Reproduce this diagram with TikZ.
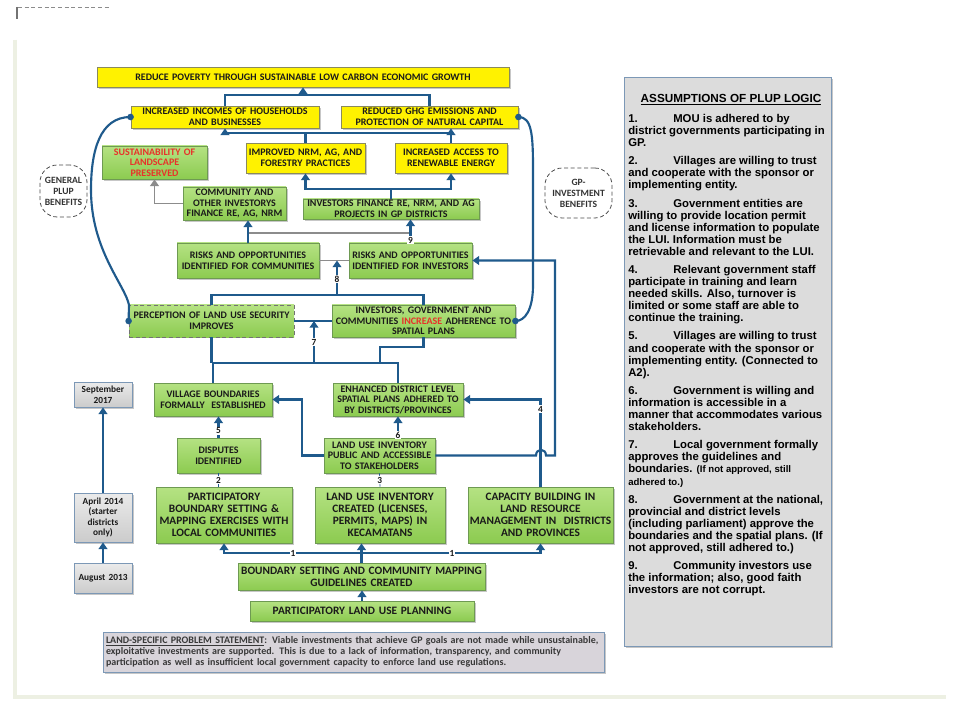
\documentclass[tikz,border=0pt]{standalone}
\usepackage{fontspec}
\setmainfont{Carlito}
\newfontfamily\arialf{Liberation Sans}
\usetikzlibrary{arrows.meta,shadows}
\newdimen\pxu \pxu=0.75pt
\definecolor{cblue}{HTML}{1F5A8C}
\definecolor{gtop}{HTML}{B5E283}
\definecolor{gbot}{HTML}{8CCB50}
\definecolor{gbord}{HTML}{6E9A52}
\definecolor{ybord}{HTML}{8A8A5C}
\definecolor{txt}{HTML}{1A1A1A}
\definecolor{rtxt}{HTML}{E8322A}
\definecolor{pfill}{HTML}{DCDCDC}
\definecolor{pbord}{HTML}{7C98B6}
\definecolor{probfill}{HTML}{D8D4DA}
\definecolor{datefill}{HTML}{E2E2E2}
\definecolor{frame}{HTML}{EDF0E3}
\tikzset{
 bx/.style={align=center, inner sep=0pt, text=txt, font=\bfseries\fontsize{7.5}{7.9}\selectfont},
 sz/.style 2 args={minimum width=#1\pxu, minimum height=#2\pxu, text width=#1\pxu},
 shad/.style={drop shadow={shadow xshift=1.3pt, shadow yshift=-1.3pt, fill=black!40, opacity=0.55}},
 gbox/.style={bx, shad, top color=gtop, bottom color=gbot, draw=gbord, line width=0.6pt},
 ybox/.style={bx, shad, fill=yellow, draw=ybord, line width=0.6pt},
 bigtext/.style={font=\bfseries\fontsize{8.5}{8.85}\selectfont},
 datebox/.style={bx, shad, top color=white!92!black, bottom color=datefill!90!black, draw=pbord, line width=0.6pt, font=\bfseries\fontsize{7}{7.9}\selectfont},
 bubble/.style={draw=black!70, densely dashed, line width=0.6pt, rounded corners=13pt, fill=white, align=center, inner sep=0pt, text=black!80, font=\bfseries\fontsize{7.2}{8.2}\selectfont},
 conn/.style={draw=cblue, line width=1.6pt},
 arr/.style={conn, -{Triangle[width=6.5pt,length=5pt]}},
 gline/.style={draw=black!45, line width=1.4pt},
 garr/.style={gline, -{Triangle[width=6.5pt,length=5pt]}},
 thinc/.style={draw=cblue, line width=0.5pt},
 lbl/.style={font=\bfseries\fontsize{7}{7}\selectfont, fill=white, inner sep=0.8pt, text=txt},
 dot/.style={fill=cblue}
}
\begin{document}
\begin{tikzpicture}[x=0.75pt,y=-0.75pt]
\useasboundingbox (0,0) rectangle (960,720);
\fill[white] (0,0) rectangle (960,720);
% page frame artefacts
\draw[frame, line width=2.8pt] (15,40) -- (15,697) -- (946,697);
\draw[black!45, densely dashed, line width=0.4pt] (18,7) -- (110,7);
\draw[black!55, line width=1pt] (17,7) -- (17,19);

% ---------- boxes ----------
\node[ybox, sz={412}{20}] (top) at (303,77) {REDUCE POVERTY THROUGH SUSTAINABLE LOW CARBON ECONOMIC GROWTH};
\node[ybox, sz={188}{22}] (inc) at (225,117) {INCREASED INCOMES OF HOUSEHOLDS\\AND BUSINESSES};
\node[ybox, sz={177}{22}] (ghg) at (429.5,117) {REDUCED GHG EMISSIONS AND\\PROTECTION OF NATURAL CAPITAL};
\node[gbox, sz={105}{33}, text=rtxt] (sust) at (154.5,162.5) {SUSTAINABILITY OF\\LANDSCAPE\\PRESERVED};
\node[ybox, sz={119}{30}] (nrm) at (305.5,158) {IMPROVED NRM, AG, AND\\FORESTRY PRACTICES};
\node[ybox, sz={112}{30}] (ren) at (451,158) {INCREASED ACCESS TO\\RENEWABLE ENERGY};
\node[gbox, sz={103}{33}] (comm) at (234.5,203.5) {COMMUNITY AND\\OTHER INVESTORYS\\FINANCE RE, AG, NRM};
\node[gbox, sz={176}{20}] (invf) at (391,209) {INVESTORS FINANCE RE, NRM, AND AG\\PROJECTS IN GP DISTRICTS};
\node[gbox, sz={142}{35}] (rc) at (248,260.5) {RISKS AND OPPORTUNITIES\\IDENTIFIED FOR COMMUNITIES};
\node[gbox, sz={123}{35}] (ri) at (410.5,260.5) {RISKS AND OPPORTUNITIES\\IDENTIFIED FOR INVESTORS};
\node[bx, top color=gtop, bottom color=gbot, draw=black!55, densely dashed, line width=0.6pt, sz={165}{32}] (perc) at (211.5,321) {PERCEPTION OF LAND USE SECURITY\\IMPROVES};
\node[gbox, sz={183}{32}] (adh) at (423.5,321) {INVESTORS, GOVERNMENT AND\\COMMUNITIES \textcolor{rtxt}{INCREASE} ADHERENCE TO\\SPATIAL PLANS};
\node[gbox, sz={118}{33}] (vil) at (213,399.5) {VILLAGE BOUNDARIES\\FORMALLY~~ESTABLISHED};
\node[gbox, sz={130}{33}] (enh) at (398,399.5) {ENHANCED DISTRICT LEVEL\\SPATIAL PLANS ADHERED TO\\BY DISTRICTS/PROVINCES};
\node[gbox, sz={83}{35}] (disp) at (218.5,455.5) {DISPUTES\\IDENTIFIED};
\node[gbox, sz={111}{35}] (luip) at (379.5,455.5) {LAND USE INVENTORY\\PUBLIC AND ACCESSIBLE\\TO STAKEHOLDERS};
\node[gbox, bigtext, sz={136}{56}] (pbs) at (224,515) {PARTICIPATORY\\BOUNDARY SETTING \&\\MAPPING EXERCISES WITH\\LOCAL COMMUNITIES};
\node[gbox, bigtext, sz={130}{56}] (luic) at (380,515) {LAND USE INVENTORY\\CREATED (LICENSES,\\PERMITS, MAPS) IN\\KECAMATANS};
\node[gbox, bigtext, sz={145}{56}] (cap) at (540.5,515) {CAPACITY BUILDING IN\\LAND RESOURCE\\MANAGEMENT IN~~DISTRICTS\\AND PROVINCES};
\node[gbox, bigtext, sz={247}{27}] (guide) at (361.5,576.5) {BOUNDARY SETTING AND COMMUNITY MAPPING\\GUIDELINES CREATED};
\node[gbox, bigtext, sz={224}{20}] (plup) at (362,611) {PARTICIPATORY LAND USE PLANNING};

% dates
\node[datebox, sz={58}{25}] (sep) at (103,394.5) {September\\2017};
\node[datebox, sz={58}{49}] (apr) at (103,517.5) {April 2014\\(starter\\districts\\only)};
\node[datebox, sz={58}{30}] (aug) at (103,578) {August 2013};

% bubbles
\node[bubble, minimum width=47\pxu, minimum height=52\pxu] (gen) at (63.5,191) {GENERAL\\PLUP\\BENEFITS};
\node[bubble, minimum width=67\pxu, minimum height=50\pxu] (gpi) at (578.5,193) {GP-\\INVESTMENT\\BENEFITS};

% problem statement
\node[shad, fill=probfill, draw=pbord, line width=0.7pt, align=left, inner xsep=3\pxu, inner ysep=0pt,
      text width=495\pxu, minimum height=40\pxu, text=black!78,
      font=\bfseries\fontsize{7.5}{8.3}\selectfont] (prob) at (353.5,652)
 {\underline{LAND-SPECIFIC PROBLEM STATEMENT}: Viable investments that achieve GP goals are not made while unsustainable,\\
  exploitative investments are supported. This is due to a lack of information, transparency, and community\\
  participation as well as insufficient local government capacity to enforce land use regulations.};

% assumptions panel
\node[shad, fill=pfill, draw=pbord, line width=0.7pt, minimum width=207\pxu, minimum height=569\pxu] (panel) at (727.5,361.5) {};
\node[font=\arialf\bfseries\fontsize{8.8}{10}\selectfont, inner sep=0pt] (ptitle) at (731,100) {\underline{ASSUMPTIONS OF PLUP LOGIC}};
\node[anchor=north west, inner sep=0pt, align=left, font=\arialf\bfseries\fontsize{8.5}{9.07}\selectfont] (ptext) at (628,114) {%
\makebox[45\pxu][l]{1.}MOU is adhered to by\\
district governments participating in\\
GP.\\[4.5pt]
\makebox[45\pxu][l]{2.}Villages are willing to trust\\
and cooperate with the sponsor or\\
implementing entity.\\[4.5pt]
\makebox[45\pxu][l]{3.}Government entities are\\
willing to provide location permit\\
and license information to populate\\
the LUI. Information must be\\
retrievable and relevant to the LUI.\\[4.5pt]
\makebox[45\pxu][l]{4.}Relevant government staff\\
participate in training and learn\\
needed skills. Also, turnover is\\
limited or some staff are able to\\
continue the training.\\[4.5pt]
\makebox[45\pxu][l]{5.}Villages are willing to trust\\
and cooperate with the sponsor or\\
implementing entity. (Connected to\\
A2).\\[4.5pt]
\makebox[45\pxu][l]{6.}Government is willing and\\
information is accessible in a\\
manner that accommodates various\\
stakeholders.\\[4.5pt]
\makebox[45\pxu][l]{7.}Local government formally\\
approves the guidelines and\\
boundaries. {\fontsize{7.2}{9.07}\selectfont (If not approved, still}\\
{\fontsize{7.2}{9.07}\selectfont adhered to.)}\\[4.5pt]
\makebox[45\pxu][l]{8.}Government at the national,\\
provincial and district levels\\
(including parliament) approve the\\
boundaries and the spatial plans. (If\\
not approved, still adhered to.)\\[4.5pt]
\makebox[45\pxu][l]{9.}Community investors use\\
the information; also, good faith\\
investors are not corrupt.};

% ---------- connectors ----------
\coordinate (j1) at (303,95);
\draw[conn] (inc.north) |- (j1) -| (ghg.north);
\draw[arr] (j1) -- (top.south);

\coordinate (j2) at (305.5,133);
\draw[conn] (nrm.north) -- (j2);
\draw[arr] (j2) -| (inc.south);
\draw[conn] (j2) -- (ren.north |- j2);
\draw[arr] (ren.north) -- (ren.north |- ghg.south);

\coordinate (j3) at (391,189);
\draw[conn] (invf.north) -- (j3);
\draw[arr] (j3) -| (nrm.south);
\draw[arr] (j3) -| (ren.south);

\draw[garr] (comm.west) -| (sust.south);

\coordinate (g1) at (248,233);
\coordinate (g2) at (410.5,233);
\draw[gline] (g1) -- (g2);
\draw[arr] (rc.north) -- (rc.north |- comm.south);
\draw[arr] (ri.north) -- (ri.north |- invf.south);
\draw[gline] (rc.east) -- (ri.west);

\coordinate (j8) at (337,295);
\draw[conn] (perc.north) |- (j8) -| (adh.north);
\draw[arr] (j8) -- (j8 |- rc.east);

\draw[conn] (perc.east) -- (adh.west);
\coordinate (j7) at (314,363);
\coordinate (j7l) at (213,363);
\coordinate (j7r) at (398,363);
\draw[conn] (vil.north) -- (j7l) -- (j7r) -- (enh.north);
\draw[conn] (perc.south) -- (perc.south |- j7l);
\coordinate (j9) at (380,347);
\draw[conn] (adh.south) |- (j9) -- (j9 |- j7l);
\draw[arr] (j7) -- (j7 |- perc.east);

\draw[arr] (disp.north) -- (disp.north |- vil.south);
\draw[arr] (enh.south |- luip.north) -- (enh.south);
\coordinate (k1) at (302,455.5);
\draw[arr] (luip.west) -- (k1) |- (vil.east);
\coordinate (hopL) at (536,455.5);
\coordinate (hopR) at (546,455.5);
\coordinate (k2) at (555,455.5);
\draw[arr] (luip.east) -- (hopL) .. controls (536,448) and (546,448) .. (hopR) -- (k2) |- (ri.east);
\draw[arr] (cap.north) |- (enh.east);

\draw[thinc] (pbs.north -| disp.south) -- (disp.south) node[lbl, midway] (l2) {2};
\draw[thinc] (luic.north) -- (luip.south) node[lbl, midway] (l3) {3};

\coordinate (b0) at (361.5,553);
\draw[arr] (b0) -| (pbs.south);
\draw[arr] (b0) -| (cap.south);
\draw[arr] (guide.north) -- (guide.north |- luic.south);
\draw[arr] (plup.north) -- (plup.north |- guide.south);

\draw[arr] (aug.north) -- (apr.south);
\draw[arr] (apr.north) -- (sep.south);

% benefit curves
\coordinate (cL) at (91,190);
\draw[conn] (inc.west) .. controls (100,117) and (91,150) .. (cL) .. controls (91,250) and (125,285) .. (129,305) -- (perc.west);
\coordinate (cR) at (533,170);
\coordinate (cR2) at (533,285);
\draw[conn] (ghg.east) .. controls (532,117) and (533,135) .. (cR) -- (cR2) .. controls (533,310) and (525,321) .. (adh.east);
\fill[dot] (inc.west) circle[radius=3.3];
\fill[dot] (ghg.east) circle[radius=3.3];
\fill[dot] (perc.west) circle[radius=3.3];
\fill[dot] (adh.east) circle[radius=3.3];

% labels
\node[lbl] (l9) at (410.5,240) {9};
\node[lbl] (l8) at (337,279) {8};
\node[lbl] (l7) at (314,342) {7};
\node[lbl] (l5) at (218.5,431) {5};
\node[lbl] (l6) at (398,435) {6};
\node[lbl] (l4) at (540.5,409) {4};
\node[lbl] (l1a) at (293,553) {1};
\node[lbl] (l1b) at (452,553) {1};
\end{tikzpicture}
\end{document}
